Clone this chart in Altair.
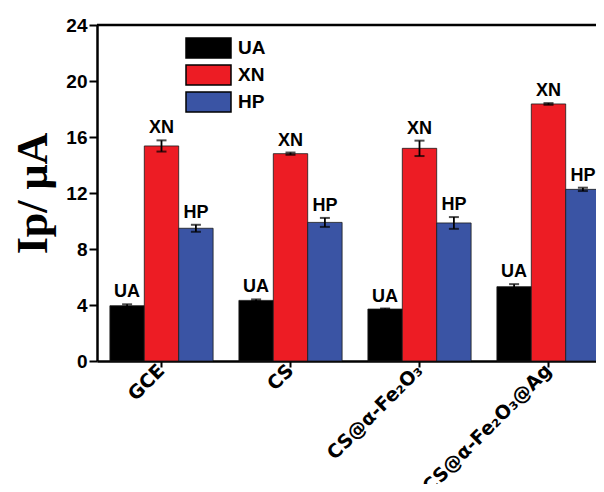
import altair as alt
import pandas as pd

categories = ["GCE", "CS", "CS@α-Fe₂O₃", "CS@α-Fe₂O₃@Ag"]
series = ["UA", "XN", "HP"]
ua = [3.95, 4.33, 3.71, 5.31]
xn = [15.36, 14.81, 15.19, 18.36]
hp = [9.48, 9.90, 9.86, 12.26]
ua_err = [0.10, 0.07, 0.04, 0.18]
xn_err = [0.40, 0.08, 0.55, 0.06]
hp_err = [0.25, 0.32, 0.42, 0.12]
colors = ["#000000", "#ED1C24", "#3A54A4"]
y_ticks = [0, 4, 8, 12, 16, 20, 24]

rows = []
for i, c in enumerate(categories):
    for s, vals, errs in zip(series, [ua, xn, hp], [ua_err, xn_err, hp_err]):
        rows.append(dict(cat=c, ser=s, val=vals[i], lo=vals[i] - errs[i], hi=vals[i] + errs[i]))
df = pd.DataFrame(rows)

YT = "Ip/ μA"
x = alt.X("cat:N", sort=categories, title=None,
          scale=alt.Scale(range=[0, 516], paddingInner=0.2, paddingOuter=0.1))
xo = alt.XOffset("ser:N", sort=series, scale=alt.Scale(paddingInner=0, paddingOuter=0))
yscale = alt.Scale(domain=[0, 24], nice=False)

color = alt.Color(
    "ser:N", sort=series,
    scale=alt.Scale(domain=series, range=colors),
    legend=alt.Legend(
        orient="none", legendX=98, legendY=9.5, title=None,
        symbolType="M-1.8,-0.8L1.8,-0.8L1.8,0.8L-1.8,0.8Z", symbolSize=625,
        symbolStrokeColor="black", symbolStrokeWidth=1.5, symbolOpacity=1,
        labelFont="Liberation Sans", labelFontSize=19, labelFontWeight="bold",
        labelColor="black", labelOffset=16, rowPadding=0, padding=0,
    ),
)

base = alt.Chart(df)

bars = base.mark_bar(stroke="#1a1a1a", strokeWidth=0.8, opacity=1).encode(
    x=x, xOffset=xo,
    y=alt.Y("val:Q", scale=yscale, title=YT, axis=alt.Axis(values=y_ticks)),
    color=color,
)

err = base.mark_rule(color="black", strokeWidth=1.8).encode(
    x=x, xOffset=xo,
    y=alt.Y("lo:Q", scale=yscale, title=YT), y2="hi:Q",
)
cap_hi = base.mark_tick(color="black", size=10, thickness=2).encode(
    x=x, xOffset=xo, y=alt.Y("hi:Q", scale=yscale, title=YT),
)
cap_lo = base.mark_tick(color="black", size=10, thickness=2).encode(
    x=x, xOffset=xo, y=alt.Y("lo:Q", scale=yscale, title=YT),
)
labels = base.mark_text(
    baseline="bottom", dy=-3, font="Liberation Sans", fontSize=18,
    fontWeight="bold", color="black",
).encode(
    x=x, xOffset=xo, y=alt.Y("hi:Q", scale=yscale, title=YT), text="ser:N",
)

top = alt.Chart(pd.DataFrame({"t": [24]})).mark_rule(color="black", strokeWidth=2.5).encode(
    y=alt.Y("t:Q", scale=yscale, title=YT)
)

chart = (
    alt.layer(bars, err, cap_hi, cap_lo, labels, top)
    .properties(
        width=499, height=336,
        padding={"left": 89, "top": 17, "right": 0, "bottom": 123},
        autosize=alt.AutoSizeParams(type="none"),
        background="white",
    )
    .configure_view(strokeWidth=0)
    .configure_axisX(
        domainColor="black", domainWidth=2.5, tickColor="black", tickWidth=2,
        tickSize=6, labelFont="DejaVu Sans", labelFontSize=19,
        labelFontWeight="bold", labelAngle=315, labelAlign="right",
        labelBaseline="middle", labelPadding=0, labelColor="black", labelLimit=400,
        grid=False,
    )
    .configure_axisY(
        domainColor="black", domainWidth=2.5, tickColor="black", tickWidth=2,
        tickSize=8, labelFont="Liberation Sans", labelFontSize=19,
        labelFontWeight="bold", labelPadding=2, labelColor="black", grid=False,
        titleFont="Liberation Serif", titleFontSize=44, titleFontWeight="bold",
        titleColor="black", titleAngle=270, titleX=-64, titleY=168,
        titleBaseline="middle", titleAlign="center",
    )
)

chart.save("out.html", embed_options={"renderer": "svg", "actions": False})
